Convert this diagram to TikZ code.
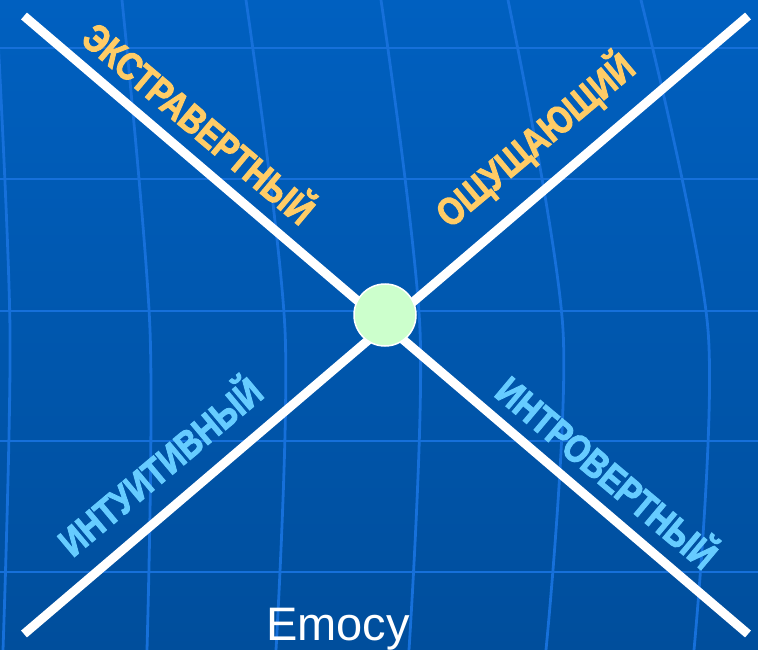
\documentclass[tikz,border=0pt]{standalone}
\usepackage{fontspec}
\setmainfont{Liberation Sans}
\newfontfamily\tagfont[FakeBold=2.5, FakeStretch=0.82]{Liberation Sans Bold}
\usepackage{xcolor}
\usetikzlibrary{positioning}

\definecolor{bgtop}{RGB}{0,96,192}
\definecolor{bgbot}{RGB}{0,78,156}
\definecolor{gridblue}{RGB}{22,112,218}
\definecolor{warm}{RGB}{255,204,102}
\definecolor{cool}{RGB}{102,204,255}
\definecolor{core}{RGB}{204,255,204}

\begin{document}
\begin{tikzpicture}[
    x=1pt, y=-1pt,
    % Define styles
    gridline/.style={draw=gridblue, line width=2.8pt},
    axis/.style={draw=white, line width=9pt},
    centre/.style={circle, fill=core, draw=white, line width=1.5pt, minimum size=62pt, inner sep=0pt},
    label/.style={inner sep=0pt, font=\tagfont\fontsize{39}{39}\selectfont},
    caption/.style={inner sep=0pt, text=white, font=\fontsize{47}{47}\selectfont}
]

% Background
\fill[top color=bgtop, bottom color=bgbot] (0,0) rectangle (758,650);
\useasboundingbox (0,0) rectangle (758,650);

% Grid
\foreach \y in {48,179,311,441,572}
    \draw[gridline] (0,\y) -- (758,\y);
\draw[gridline] plot[smooth] coordinates {(-4,0) (10,330) (3,650)};
\draw[gridline] plot[smooth] coordinates {(122,0) (150,330) (147,650)};
\draw[gridline] plot[smooth] coordinates {(246,0) (285,330) (276,650)};
\draw[gridline] plot[smooth] coordinates {(381,0) (420,330) (409,650)};
\draw[gridline] plot[smooth] coordinates {(508,0) (563,330) (546,650)};
\draw[gridline] plot[smooth] coordinates {(641,0) (708,330) (694,650)};

% Axes ends
\coordinate (tl) at (24,16);
\coordinate (br) at (748,634);
\coordinate (tr) at (748,16);
\coordinate (bl) at (24,634);

% Axes
\draw[axis] (tl) -- (br);
\draw[axis] (tr) -- (bl);

% Centre
\node[centre] (mid) at (385,315) {};

% Labels
\node[label, text=warm, rotate=-40] (extra) at (201,121) {ЭКСТРАВЕРТНЫЙ};
\node[label, text=warm, rotate=40] (sens) at (535,140) {ОЩУЩАЮЩИЙ};
\node[label, text=cool, rotate=40] (intu) at (158,464) {ИНТУИТИВНЫЙ};
\node[label, text=cool, rotate=-40] (intro) at (609,470) {ИНТРОВЕРТНЫЙ};

% Caption
\node[caption, anchor=base] (emo) at (338,640) {Emocy};

\end{tikzpicture}
\end{document}
